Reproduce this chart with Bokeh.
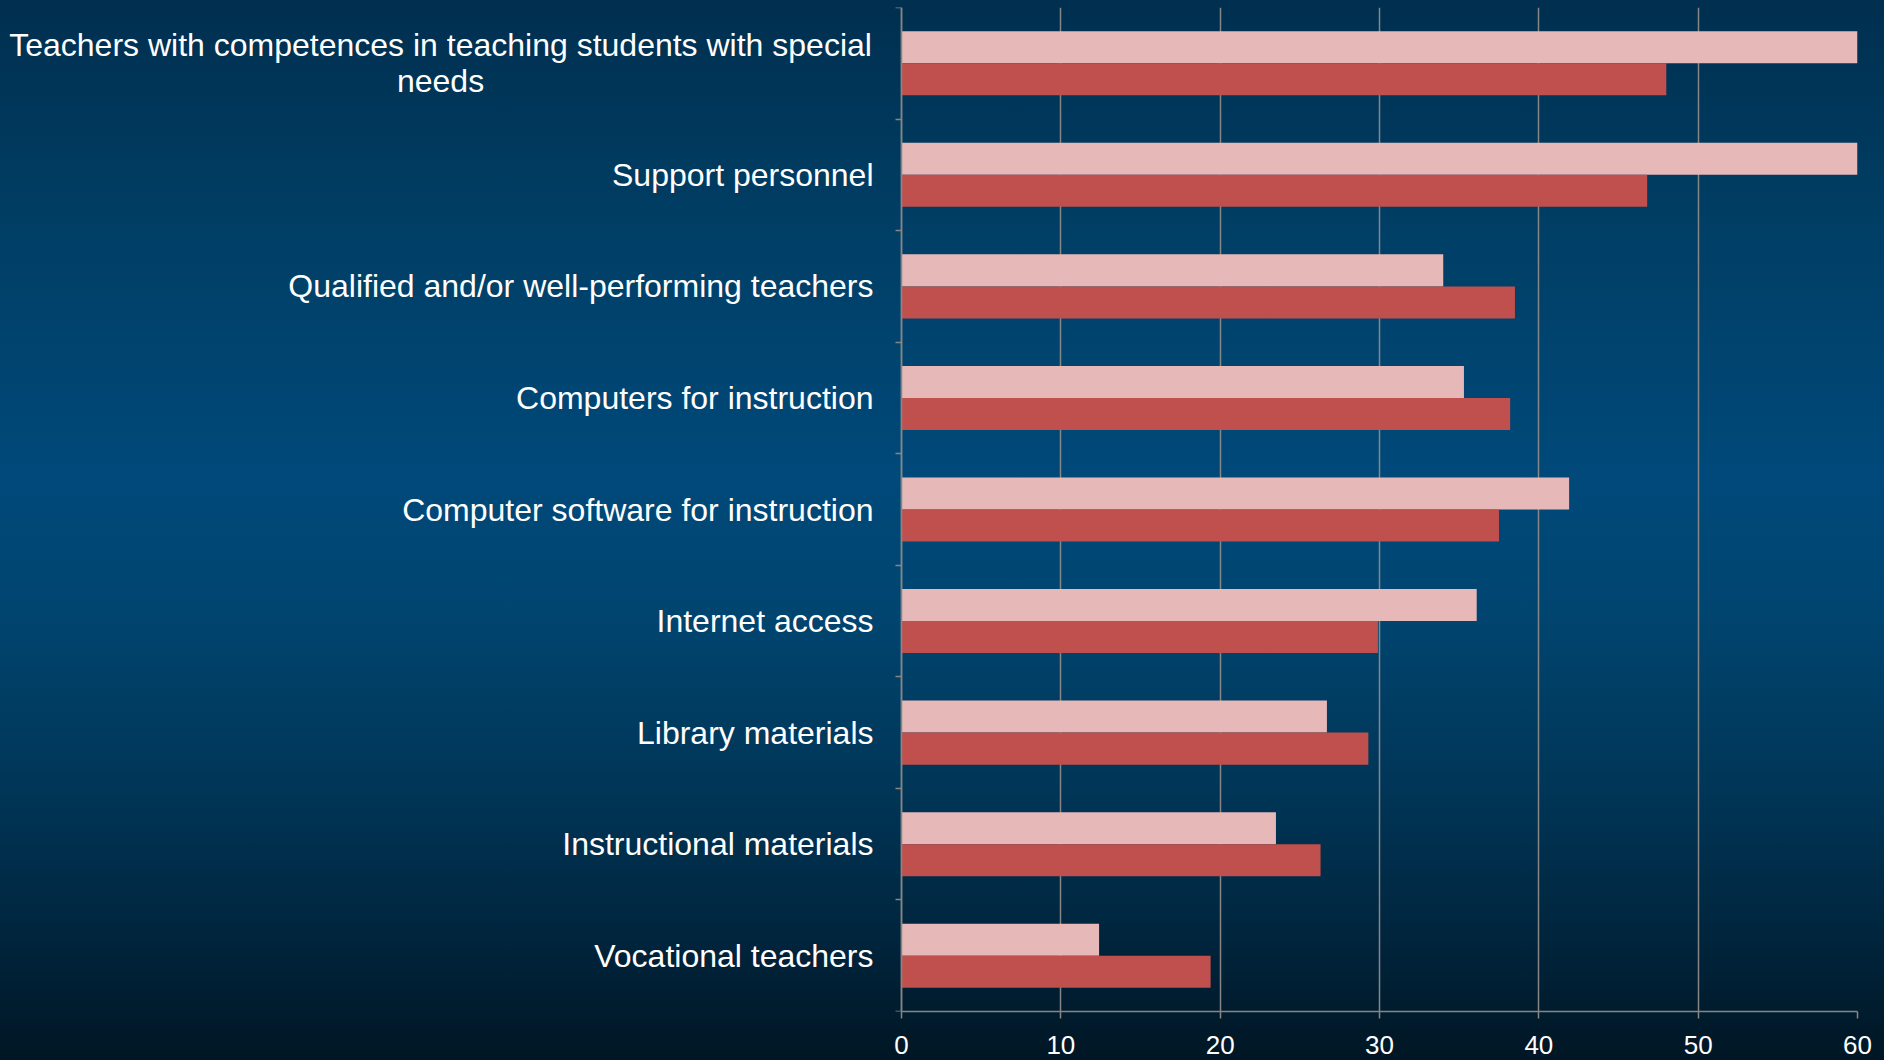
from bokeh.plotting import figure
from bokeh.models import Range1d, FixedTicker, ColumnDataSource, GlobalInlineStyleSheet
from bokeh.core.properties import value
from bokeh.transform import dodge
from bokeh.embed import file_html
from bokeh.resources import INLINE

# ---- data ----
categories = [
    "Teachers with competences in teaching students with special\nneeds",
    "Support personnel",
    "Qualified and/or well-performing teachers",
    "Computers for instruction",
    "Computer software for instruction",
    "Internet access",
    "Library materials",
    "Instructional materials",
    "Vocational teachers",
]
series_light = [60.0, 60.0, 34.0, 35.3, 41.9, 36.1, 26.7, 23.5, 12.4]
series_dark = [48.0, 46.8, 38.5, 38.2, 37.5, 29.9, 29.3, 26.3, 19.4]
x_ticks = [0, 10, 20, 30, 40, 50, 60]

# ---- styles / layout ----
LIGHT = "#E6B9B8"
DARK = "#C0504D"
AXIS = "#868686"
FONT = "Liberation Sans"
BAR_H = 0.287
X_VIEW_START = -56.55     # room left of the value axis for the category labels
WRAP_CENTER_X = -28.93    # centre of a wrapped category label (x data units)

positions = list(range(len(categories)))
source = ColumnDataSource(dict(y=positions, light=series_light, dark=series_dark))

bg = GlobalInlineStyleSheet(css="""
html { height: 100%; background: linear-gradient(to bottom, #002f4f 0%, #003f66 22%, #00497a 45%, #004570 58%, #003556 75%, #00233a 90%, #001624 100%) no-repeat; }
body { background: transparent; }
""")

p = figure(
    width=1884, height=1060,
    x_range=Range1d(X_VIEW_START, x_ticks[-1]),
    y_range=Range1d(len(categories) - 0.5, -0.5),
    output_backend="svg", toolbar_location=None,
    min_border_left=0, min_border_right=27, min_border_top=7, min_border_bottom=49,
)
p.stylesheets = [bg]
p.background_fill_color = None
p.border_fill_color = None
p.outline_line_color = None

p.hbar(y=dodge("y", -BAR_H / 2, range=p.y_range), left=0, right="light", height=BAR_H,
       source=source, fill_color=LIGHT, line_color=None)
p.hbar(y=dodge("y", BAR_H / 2, range=p.y_range), left=0, right="dark", height=BAR_H,
       source=source, fill_color=DARK, line_color=None)

# x axis
xa = p.xaxis[0]
xa.ticker = FixedTicker(ticks=x_ticks, minor_ticks=[])
xa.bounds = (x_ticks[0], x_ticks[-1])
xa.axis_line_color = AXIS
xa.axis_line_width = 1.5
xa.major_tick_line_color = AXIS
xa.major_tick_line_width = 1.5
xa.major_tick_out = 7
xa.major_tick_in = 0
xa.minor_tick_line_color = None
xa.major_label_text_color = "white"
xa.major_label_text_font = FONT
xa.major_label_text_font_size = "26px"
xa.major_label_standoff = 17

# y axis at x = 0; single-line labels on the axis, wrapped ones drawn centred
overrides = {}
wrapped_y, wrapped_text = [], []
for i, c in zip(positions, categories):
    if "\n" in c:
        overrides[i] = ""
        wrapped_y.append(i)
        wrapped_text.append(c)
    else:
        overrides[i] = c

p.text(x=[WRAP_CENTER_X] * len(wrapped_y), y=wrapped_y, text=wrapped_text,
       text_align="center", text_baseline="middle", text_color="white",
       text_font=value(FONT), text_font_size="32px", text_line_height=1.0)

ya = p.yaxis[0]
ya.fixed_location = 0
ya.ticker = FixedTicker(ticks=positions,
                        minor_ticks=[i - 0.5 for i in range(len(categories) + 1)])
ya.major_label_overrides = overrides
ya.axis_line_color = AXIS
ya.axis_line_width = 1.5
ya.major_tick_line_color = None
ya.major_tick_out = 0
ya.major_tick_in = 0
ya.minor_tick_line_color = AXIS
ya.minor_tick_line_width = 1.5
ya.minor_tick_out = 6
ya.minor_tick_in = 0
ya.major_label_text_color = "white"
ya.major_label_text_font = FONT
ya.major_label_text_font_size = "32px"
ya.major_label_standoff = 22

p.xgrid.ticker = FixedTicker(ticks=x_ticks)
p.xgrid.grid_line_color = AXIS
p.xgrid.grid_line_width = 1.5
p.ygrid.visible = False

open("out.html", "w").write(file_html(p, INLINE))
